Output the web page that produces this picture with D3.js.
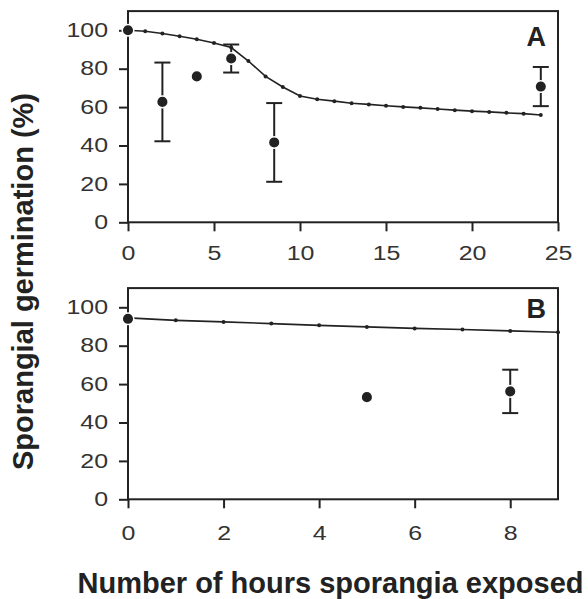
<!DOCTYPE html>
<html>
<head>
<meta charset="utf-8">
<script src="https://cdn.jsdelivr.net/npm/d3@7"></script>
<style>
  body { margin: 0; background: #fff; }
  text { font-family: "Liberation Sans", Arial, sans-serif; }
</style>
</head>
<body>
<div id="chart"></div>
<script>
// panel A: model curve, hourly
const hoursA = [0,1,2,3,4,5,6,7,8,9,10,11,12,13,14,15,16,17,18,19,20,21,22,23,24];
const modelA = [100,99.5,98.3,96.9,95.3,93.4,91,84,76,70.5,65.8,64.1,63.1,62,61.4,60.7,60.1,59.6,59,58.4,57.9,57.5,57,56.6,55.9];
// panel A: observed means and error
const obsHoursA = [0,2,4,6,8.5,24];
const obsA = [100,62.7,76,85.3,41.6,70.7];
const errA = [0,20.5,0,7.3,20.5,10.2];

// panel B
const hoursB = [0,1,2,3,4,5,6,7,8,9];
const modelB = [94.5,93.2,92.4,91.5,90.6,89.8,89,88.4,87.7,87];
const obsHoursB = [0,5,8];
const obsB = [94,53.2,56.2];
const errB = [0,0,11.3];

const ticksY = [0,20,40,60,80,100];
const ticksXA = [0,5,10,15,20,25];
const ticksXB = [0,2,4,6,8];

const W = 588, H = 599;
const ink = "#222";
const txt = "#333";
const tickFont = 19.5;
const stretch = 1.28; // tick labels look horizontally wide

const svg = d3.select("#chart").append("svg")
    .attr("width", W)
    .attr("height", H);

function panel(opt) {
  let x = d3.scaleLinear().domain(opt.xDomain).range([128, 558]);
  let y = d3.scaleLinear().domain([0, 110]).range([opt.y0, opt.y0 - 110 * 1.92]);
  let g = svg.append("g");

  // x axis
  let xa = g.append("g")
      .attr("transform", "translate(0," + opt.y0 + ")")
      .call(d3.axisBottom(x).tickValues(opt.xTicks).tickSize(9).tickPadding(opt.xPad).tickFormat(d3.format("d")));
  xa.select(".domain").remove();
  xa.selectAll("line").attr("stroke", ink).attr("stroke-width", 2);
  xa.selectAll("text")
      .attr("font-size", tickFont)
      .attr("fill", txt)
      .attr("transform", "scale(" + stretch + ",1)");

  // y axis
  let ya = g.append("g")
      .attr("transform", "translate(128,0)")
      .call(d3.axisLeft(y).tickValues(ticksY).tickSize(9));
  ya.select(".domain").remove();
  ya.selectAll("line").attr("stroke", ink).attr("stroke-width", 2);
  ya.selectAll("text")
      .attr("font-size", tickFont)
      .attr("fill", txt)
      .attr("x", -20 / stretch)
      .attr("transform", "scale(" + stretch + ",1)");

  // frame
  g.append("rect")
      .attr("x", x.range()[0])
      .attr("y", y(110))
      .attr("width", x.range()[1] - x.range()[0])
      .attr("height", opt.y0 - y(110))
      .attr("fill", "none")
      .attr("stroke", ink)
      .attr("stroke-width", 2);

  // model line
  let line = d3.line()
      .x((d, i) => x(opt.hours[i]))
      .y(d => y(d));
  g.append("path")
      .datum(opt.model)
      .attr("d", line)
      .attr("fill", "none")
      .attr("stroke", ink)
      .attr("stroke-width", 1.6);
  g.selectAll(".small")
      .data(opt.model)
      .enter()
      .append("circle")
      .attr("cx", (d, i) => x(opt.hours[i]))
      .attr("cy", d => y(d))
      .attr("r", 2)
      .attr("fill", ink);

  // error bars
  opt.obs.forEach((v, i) => {
    let e = opt.err[i];
    if (!e) return;
    let cx = x(opt.obsHours[i]);
    g.append("line")
        .attr("x1", cx).attr("x2", cx)
        .attr("y1", y(v - e)).attr("y2", y(v + e))
        .attr("stroke", ink).attr("stroke-width", 2);
    [v - e, v + e].forEach(c => {
      g.append("line")
          .attr("x1", cx - 8).attr("x2", cx + 8)
          .attr("y1", y(c)).attr("y2", y(c))
          .attr("stroke", ink).attr("stroke-width", 2);
    });
  });

  // observed points
  g.selectAll(".obs")
      .data(opt.obs)
      .enter()
      .append("circle")
      .attr("cx", (d, i) => x(opt.obsHours[i]))
      .attr("cy", d => y(d))
      .attr("r", 5.8)
      .attr("fill", ink)
      .attr("stroke", "#fff")
      .attr("stroke-width", 1.5);

  g.append("text")
      .attr("x", 546)
      .attr("y", opt.labelY)
      .attr("text-anchor", "end")
      .attr("font-size", 27)
      .attr("font-weight", "bold")
      .attr("fill", ink)
      .text(opt.label);
}

panel({
  xDomain: [0, 25], y0: 222.3, xTicks: ticksXA, xPad: 14.5,
  hours: hoursA, model: modelA,
  obsHours: obsHoursA, obs: obsA, err: errA,
  label: "A", labelY: 46
});

panel({
  xDomain: [0, 9], y0: 499.3, xTicks: ticksXB, xPad: 17.4,
  hours: hoursB, model: modelB,
  obsHours: obsHoursB, obs: obsB, err: errB,
  label: "B", labelY: 318
});

// axis titles
svg.append("text")
    .attr("transform", "translate(33,281.5) rotate(-90)")
    .attr("text-anchor", "middle")
    .attr("font-size", 29)
    .attr("font-weight", "bold")
    .attr("fill", ink)
    .text("Sporangial germination (%)");

svg.append("text")
    .attr("x", 330.5)
    .attr("y", 593)
    .attr("text-anchor", "middle")
    .attr("font-size", 29)
    .attr("font-weight", "bold")
    .attr("fill", ink)
    .text("Number of hours sporangia exposed");
</script>
</body>
</html>
